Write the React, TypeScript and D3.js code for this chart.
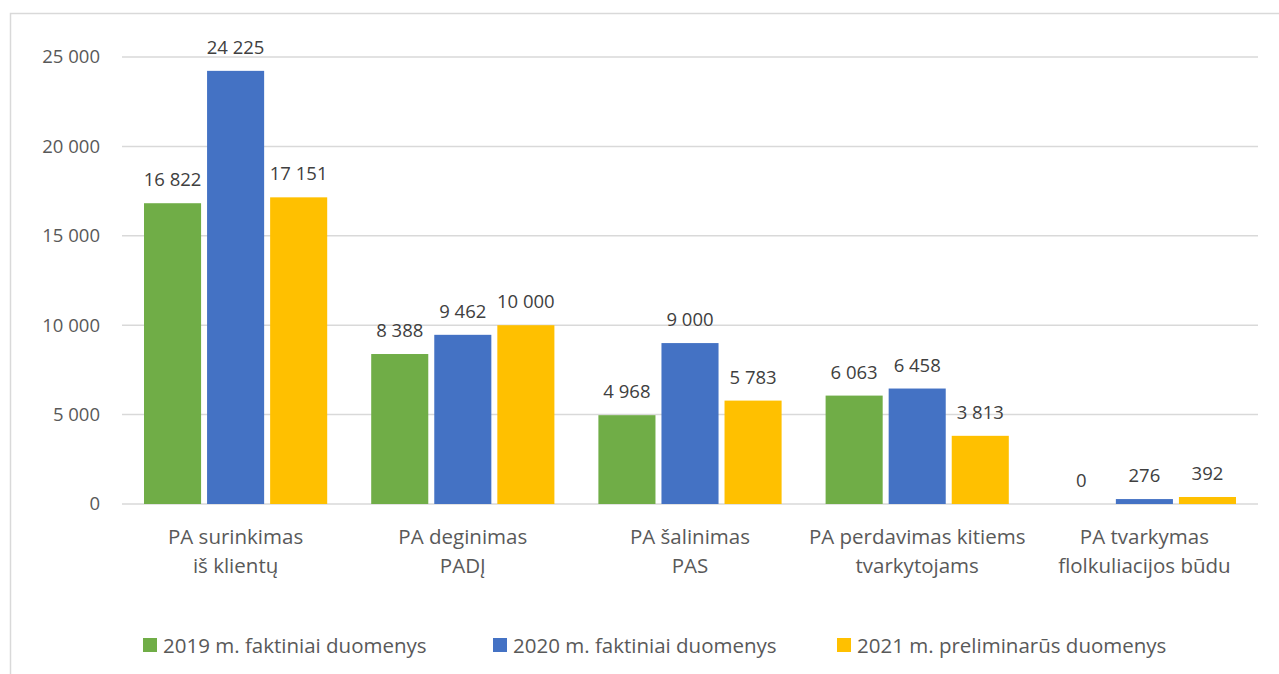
import React from "react";
import * as d3 from "d3";

const categories: string[][] = [
  ["PA surinkimas", "iš klientų"],
  ["PA deginimas", "PADĮ"],
  ["PA šalinimas", "PAS"],
  ["PA perdavimas kitiems", "tvarkytojams"],
  ["PA tvarkymas", "flolkuliacijos būdu"],
];
const seriesNames = [
  "2019 m. faktiniai duomenys",
  "2020 m. faktiniai duomenys",
  "2021 m. preliminarūs duomenys",
];
const values2019 = [16822, 8388, 4968, 6063, 0];
const values2020 = [24225, 9462, 9000, 6458, 276];
const values2021 = [17151, 10000, 5783, 3813, 392];
const yTicks = [0, 5000, 10000, 15000, 20000, 25000];
const colors = ["#70AD47", "#4472C4", "#FFC000"];

const W = 1279;
const H = 674;
const FONT = "'Open Sans', sans-serif";

const fmt = (v: number) => d3.format(",")(v).replace(/,/g, " ");

export default function App() {
  const series = [values2019, values2020, values2021];
  const left = 122;
  const right = 1258;
  const y = d3.scaleLinear().domain([0, 25000]).range([504, 57]);
  const x0 = d3
    .scaleBand<number>()
    .domain(categories.map((_, i) => i))
    .range([left, right])
    .padding(0);
  const groupPad = 22;
  const x1 = d3
    .scaleBand<number>()
    .domain([0, 1, 2])
    .range([groupPad, x0.bandwidth() - groupPad])
    .paddingInner(0.095)
    .paddingOuter(0);
  const legendX = [143, 493, 837];

  return (
    <svg
      width={W}
      height={H}
      style={{ position: "absolute", left: 0, top: 0, background: "#fff" }}
      fontFamily={FONT}
    >
      <rect x={10.5} y={13.5} width={W + 20} height={H + 20} fill="#fff" stroke="#d9d9d9" strokeWidth={1.5} />
      {yTicks.map((t) => (
        <g key={t}>
          <line x1={left} x2={right} y1={y(t)} y2={y(t)} stroke="#d9d9d9" strokeWidth={1.5} />
          <text x={100} y={y(t)} dy="0.35em" textAnchor="end" fontSize={18.5} fill="#595959">
            {fmt(t)}
          </text>
        </g>
      ))}
      {categories.map((cat, ci) => (
        <g key={ci} transform={`translate(${x0(ci)},0)`}>
          {series.map((vals, si) => {
            const v = vals[ci];
            const bx = x1(si)!;
            const bw = x1.bandwidth();
            return (
              <g key={si}>
                {v > 0 && (
                  <rect x={bx} y={y(v)} width={bw} height={y(0) - y(v)} fill={colors[si]} />
                )}
                <text
                  x={bx + bw / 2}
                  y={y(v) - 17}
                  textAnchor="middle"
                  fontSize={18.5}
                  fill="#404040"
                >
                  {fmt(v)}
                </text>
              </g>
            );
          })}
          {cat.map((line, li) => (
            <text
              key={li}
              x={x0.bandwidth() / 2}
              y={544 + li * 28.5}
              textAnchor="middle"
              fontSize={20.5}
              fill="#595959"
            >
              {line}
            </text>
          ))}
        </g>
      ))}
      {seriesNames.map((name, si) => (
        <g key={si} transform={`translate(${legendX[si]},638)`}>
          <rect x={0} y={0} width={14} height={14} fill={colors[si]} />
          <text x={20} y={15} fontSize={20.5} fill="#595959">
            {name}
          </text>
        </g>
      ))}
    </svg>
  );
}
